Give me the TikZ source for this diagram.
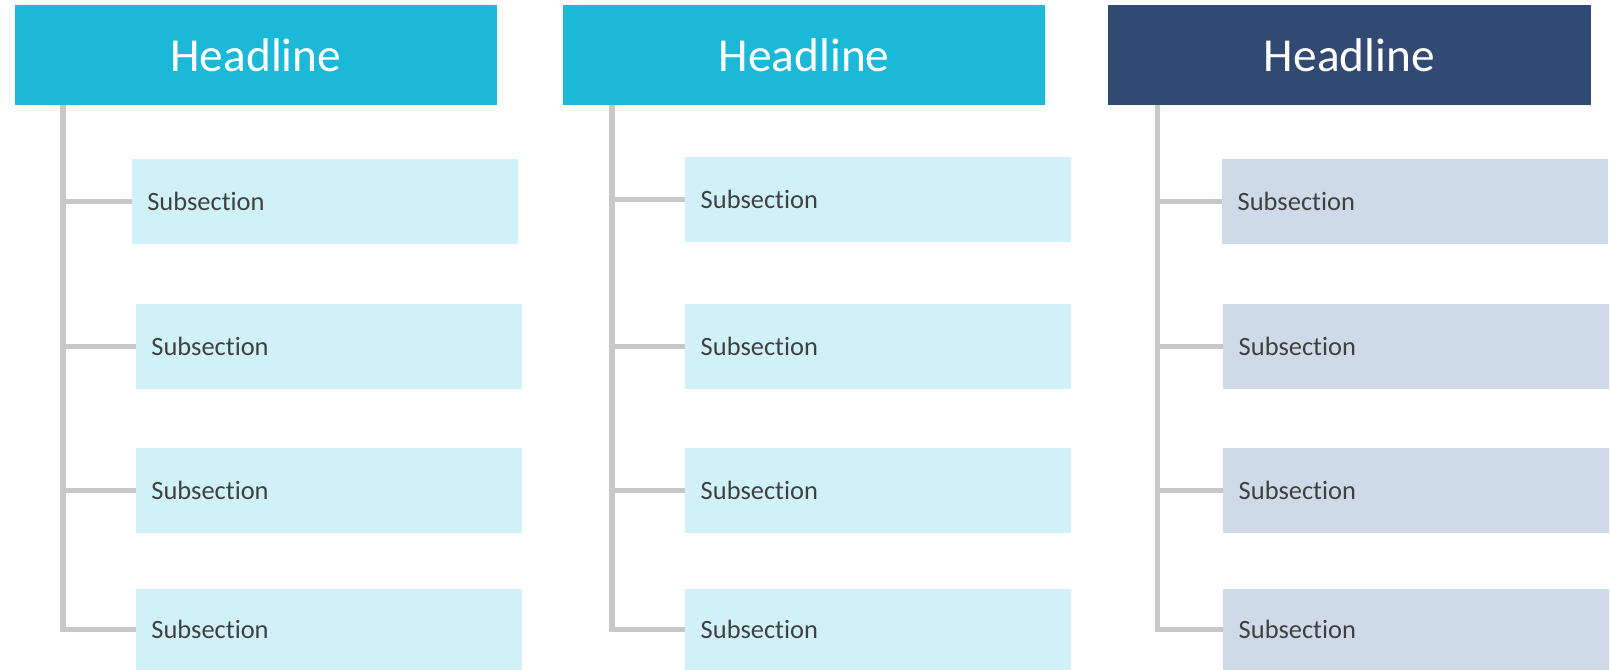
\documentclass[tikz,border=0pt]{standalone}
\usepackage{fontspec}
\setmainfont{Carlito}[Ligatures=NoCommon]
\definecolor{headcyan}{RGB}{28, 184, 216}
\definecolor{headnavy}{RGB}{50, 74, 114}
\definecolor{subcyan}{RGB}{208, 241, 248}
\definecolor{subnavy}{RGB}{207, 218, 233}
\definecolor{linegray}{RGB}{200, 200, 200}
\definecolor{textgray}{RGB}{64, 64, 64}
\usetikzlibrary{positioning, calc}

\begin{document}
\begin{tikzpicture}[x=1pt, y=-1pt, scale=1.0287, transform shape,
  head/.style={anchor=north west, minimum width=469pt, minimum height=97pt, inner sep=0pt, text=white, font=\fontsize{46}{50}\selectfont},
  sub/.style={anchor=north west, minimum height=83pt, text width=345pt, inner xsep=15pt, inner ysep=0pt, align=left, text=textgray, font=\fontsize{25.7}{28}\selectfont},
  link/.style={draw=linegray, line width=5.6pt}
]
  \useasboundingbox (0,0) rectangle (1566.1,651.3);

  % Column 1
  \node[head, fill=headcyan] (h1) at (14, 5) {Headline};
  \node[sub, fill=subcyan] (a1) at (128, 154) {Subsection};
  \node[sub, fill=subcyan] (a2) at (132, 295) {Subsection};
  \node[sub, fill=subcyan] (a3) at (132, 435) {Subsection};
  \node[sub, fill=subcyan, minimum height=79pt] (a4) at (132, 572) {Subsection};
  \coordinate (s1) at (61, 102);
  \draw[link] (s1) |- (a4.west);
  \draw[link] (s1 |- a1.west) -- (a1.west);
  \draw[link] (s1 |- a2.west) -- (a2.west);
  \draw[link] (s1 |- a3.west) -- (a3.west);

  % Column 2
  \node[head, fill=headcyan] (h2) at (547, 5) {Headline};
  \node[sub, fill=subcyan] (b1) at (666, 152) {Subsection};
  \node[sub, fill=subcyan] (b2) at (666, 295) {Subsection};
  \node[sub, fill=subcyan] (b3) at (666, 435) {Subsection};
  \node[sub, fill=subcyan, minimum height=79pt] (b4) at (666, 572) {Subsection};
  \coordinate (s2) at (595, 102);
  \draw[link] (s2) |- (b4.west);
  \draw[link] (s2 |- b1.west) -- (b1.west);
  \draw[link] (s2 |- b2.west) -- (b2.west);
  \draw[link] (s2 |- b3.west) -- (b3.west);

  % Column 3
  \node[head, fill=headnavy] (h3) at (1077, 5) {Headline};
  \node[sub, fill=subnavy] (c1) at (1188, 154) {Subsection};
  \node[sub, fill=subnavy] (c2) at (1189, 295) {Subsection};
  \node[sub, fill=subnavy] (c3) at (1189, 435) {Subsection};
  \node[sub, fill=subnavy, minimum height=79pt] (c4) at (1189, 572) {Subsection};
  \coordinate (s3) at (1125, 102);
  \draw[link] (s3) |- (c4.west);
  \draw[link] (s3 |- c1.west) -- (c1.west);
  \draw[link] (s3 |- c2.west) -- (c2.west);
  \draw[link] (s3 |- c3.west) -- (c3.west);
\end{tikzpicture}
\end{document}
